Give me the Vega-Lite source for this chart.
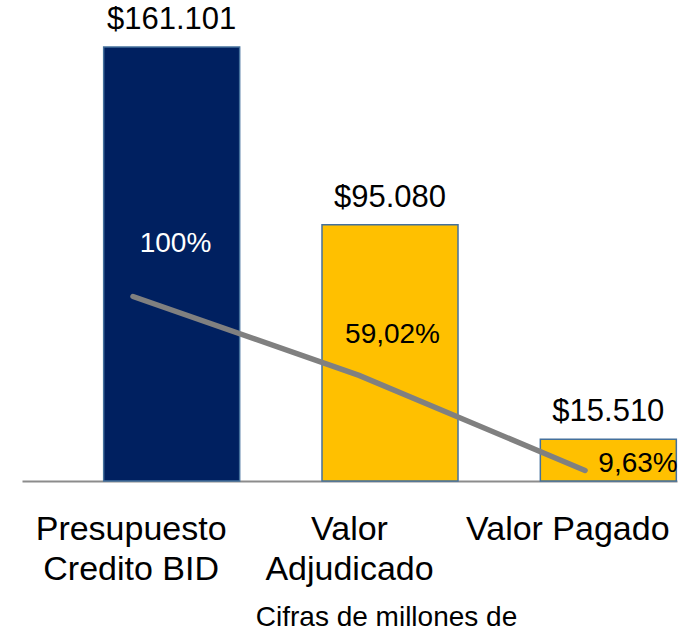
{
  "$schema": "https://vega.github.io/schema/vega-lite/v6.json",
  "width": 655,
  "height": 434,
  "autosize": "none",
  "padding": {"left": 22, "top": 47, "right": 11, "bottom": 151},
  "background": "white",
  "config": {"view": {"stroke": null}, "font": "Liberation Sans"},
  "data": {
    "values": [
      {"category": "Presupuesto Credito BID", "value": 161101, "value_label": "$161.101", "pct": 100, "pct_label": "100%"},
      {"category": "Valor Adjudicado", "value": 95080, "value_label": "$95.080", "pct": 59.02, "pct_label": "59,02%"},
      {"category": "Valor Pagado", "value": 15510, "value_label": "$15.510", "pct": 9.63, "pct_label": "9,63%"}
    ]
  },
  "layer": [
    {
      "layer": [
        {
          "mark": {"type": "bar", "width": 136, "xOffset": 40.5, "stroke": "#44709C", "strokeWidth": 1.5},
          "encoding": {
            "x": {
              "field": "category", "type": "nominal", "sort": null,
              "scale": {"type": "band", "paddingInner": 0, "paddingOuter": 0},
              "axis": {
                "title": "Cifras de millones de",
                "titleFontSize": 28, "titleFontWeight": "normal", "titleColor": "black",
                "titleX": 364, "titleY": 144, "titleBaseline": "alphabetic", "titleAlign": "center",
                "labelAngle": 0, "labelFontSize": 34, "labelColor": "black", "labelLineHeight": 40,
                "labelPadding": 31, "labelLimit": 0, "labelOverlap": false, "ticks": false, "tickSize": 0,
                "domainColor": "#8C8C8C", "domainWidth": 2, "grid": false,
                "labelExpr": "datum.value == 'Presupuesto Credito BID' ? ['Presupuesto', 'Credito BID'] : datum.value == 'Valor Adjudicado' ? ['Valor', 'Adjudicado'] : datum.value"
              }
            },
            "y": {"field": "value", "type": "quantitative", "scale": {"domain": [0, 161101], "nice": false, "zero": true}, "axis": null},
            "color": {"condition": {"test": "datum.category === 'Presupuesto Credito BID'", "value": "#002060"}, "value": "#FFC000"}
          }
        },
        {
          "mark": {"type": "text", "xOffset": 40.5, "dy": -18, "baseline": "alphabetic", "fontSize": 31, "color": "black"},
          "encoding": {
            "x": {"field": "category", "type": "nominal", "sort": null, "scale": {"type": "band", "paddingInner": 0, "paddingOuter": 0}},
            "y": {"field": "value", "type": "quantitative"},
            "text": {"field": "value_label"}
          }
        }
      ]
    },
    {
      "layer": [
        {
          "mark": {"type": "line", "color": "#808080", "strokeWidth": 5.5, "strokeCap": "round"},
          "encoding": {
            "x": {"field": "category", "type": "nominal", "sort": null, "scale": {"type": "point", "padding": 0.449, "align": 0.547}, "axis": null},
            "y": {"field": "pct", "type": "quantitative", "scale": {"domain": [4.15, 229.6], "nice": false, "zero": false}, "axis": null}
          }
        },
        {
          "transform": [{"filter": "datum.category === 'Presupuesto Credito BID'"}],
          "mark": {"type": "text", "dx": 42.5, "dy": -44, "baseline": "alphabetic", "fontSize": 28, "color": "white"},
          "encoding": {
            "x": {"field": "category", "type": "nominal", "sort": null},
            "y": {"field": "pct", "type": "quantitative"},
            "text": {"field": "pct_label"}
          }
        },
        {
          "transform": [{"filter": "datum.category === 'Valor Adjudicado'"}],
          "mark": {"type": "text", "dx": 33.5, "dy": -32, "baseline": "alphabetic", "fontSize": 28, "color": "black"},
          "encoding": {
            "x": {"field": "category", "type": "nominal", "sort": null},
            "y": {"field": "pct", "type": "quantitative"},
            "text": {"field": "pct_label"}
          }
        },
        {
          "transform": [{"filter": "datum.category === 'Valor Pagado'"}],
          "mark": {"type": "text", "dx": 53, "dy": 2, "baseline": "alphabetic", "fontSize": 28, "color": "black"},
          "encoding": {
            "x": {"field": "category", "type": "nominal", "sort": null},
            "y": {"field": "pct", "type": "quantitative"},
            "text": {"field": "pct_label"}
          }
        }
      ]
    }
  ],
  "resolve": {"scale": {"x": "independent", "y": "independent"}}
}
